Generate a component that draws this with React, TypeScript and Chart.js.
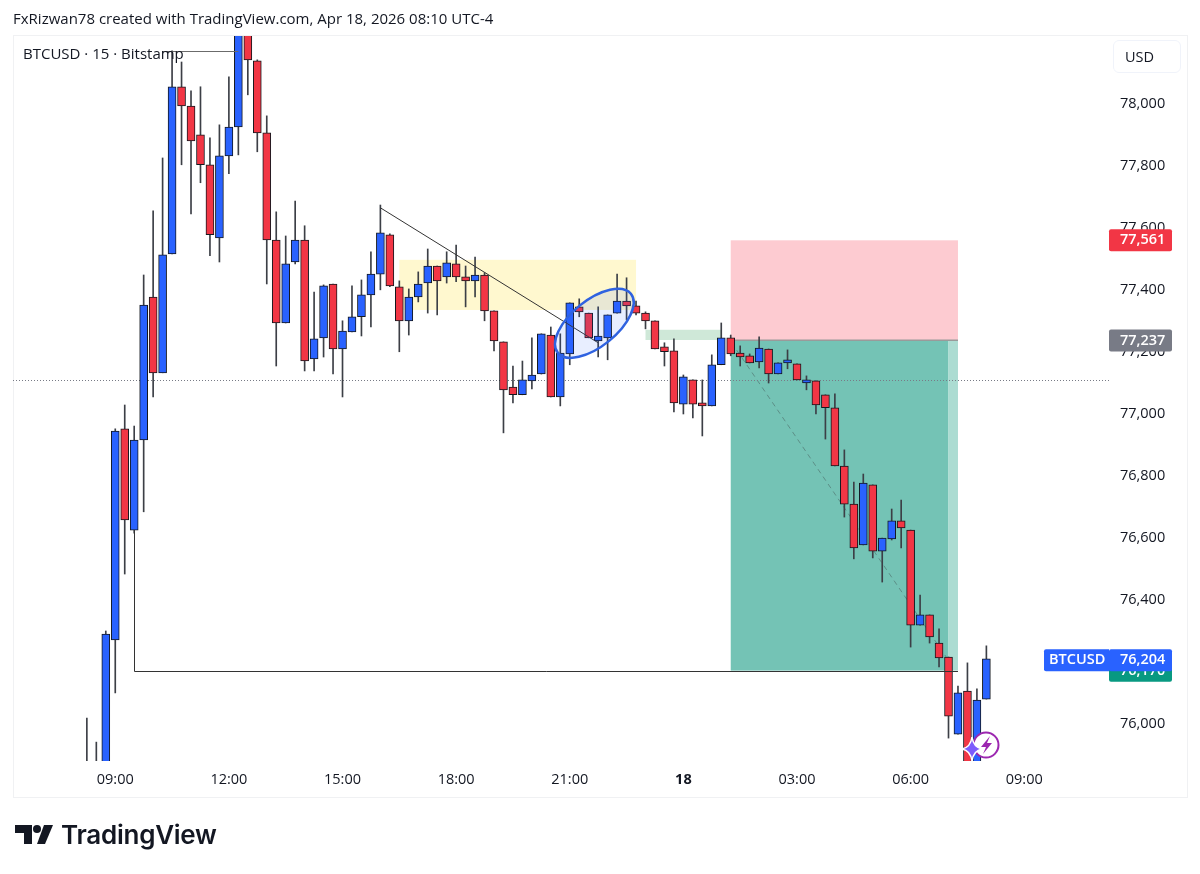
import { useEffect, useRef } from "react";
import { Chart, registerables } from "chart.js";

Chart.register(...registerables);

const FONT = '"Open Sans", sans-serif';

// 15 minute BTCUSD bars, bar 0 is the 09:00 candle
const firstBar = -3;
const opens = [
  75790, 75810, 75840,
  76265, 76947, 76620, 76911, 77373, 77128, 77512, 78052, 77990, 77897, 77800, 77564,
  77829, 77922, 78252, 78136, 77903, 77557, 77289, 77486, 77557, 77173, 77241, 77415,
  77205, 77260, 77309, 77380, 77447, 77574, 77406, 77296, 77373, 77418, 77473, 77438,
  77480, 77438, 77425, 77444, 77328, 77228, 77082, 77057, 77102, 77124, 77250, 77050,
  77189, 77341, 77321, 77231, 77241, 77321, 77360, 77344, 77321, 77296, 77212, 77199,
  77027, 77105, 77031, 77021, 77154, 77241, 77192, 77183, 77163, 77205, 77124, 77160,
  77157, 77095, 77102, 77057, 77015, 76827, 76704, 76572, 76766, 76552, 76591, 76650,
  76620, 76313, 76346, 76255, 76210, 75961, 76100, 75845, 76074,
];
const highs = [
  76013, 75935, 76294,
  76947, 77024, 76956, 77444, 77651, 77822, 78168, 78132, 78039, 78052, 77887, 77929,
  78084, 78280, 78290, 78139, 77958, 77648, 77570, 77683, 77603, 77389, 77412, 77415,
  77296, 77409, 77428, 77519, 77670, 77577, 77425, 77399, 77454, 77528, 77473, 77519,
  77541, 77473, 77502, 77451, 77328, 77228, 77150, 77166, 77241, 77254, 77276, 77254,
  77354, 77367, 77321, 77341, 77315, 77447, 77435, 77360, 77325, 77296, 77225, 77238,
  77121, 77105, 77105, 77186, 77289, 77250, 77215, 77189, 77244, 77205, 77160, 77202,
  77157, 77118, 77102, 77057, 77060, 76879, 76775, 76801, 76766, 76594, 76688, 76717,
  76620, 76410, 76346, 76301, 76210, 76116, 76191, 76107, 76246,
];
const lows = [
  75780, 75800, 75830,
  76094, 76478, 76610, 76679, 77050, 77128, 77512, 77800, 77641, 77742, 77506, 77486,
  77771, 77832, 78026, 77842, 77415, 77150, 77289, 77480, 77134, 77134, 77179, 77124,
  77050, 77260, 77247, 77276, 77396, 77406, 77196, 77250, 77357, 77321, 77315, 77418,
  77422, 77341, 77373, 77296, 77199, 76934, 77031, 77057, 77076, 77124, 77050, 77021,
  77154, 77309, 77241, 77179, 77170, 77321, 77299, 77315, 77270, 77205, 77150, 77002,
  76995, 76982, 76924, 77021, 77154, 77183, 77150, 77160, 77144, 77095, 77124, 77141,
  77105, 77073, 76995, 76914, 76827, 76662, 76527, 76572, 76530, 76452, 76588, 76562,
  76242, 76313, 76255, 76178, 75948, 75961, 75800, 75830, 76074,
];
const closes = [
  75810, 75840, 76284,
  76940, 76653, 76911, 77347, 77128, 77509, 78052, 77990, 77877, 77800, 77574, 77829,
  77922, 78252, 78139, 77903, 77557, 77289, 77480, 77557, 77166, 77238, 77409, 77205,
  77263, 77309, 77380, 77447, 77580, 77409, 77296, 77373, 77415, 77473, 77425, 77483,
  77438, 77425, 77444, 77328, 77231, 77073, 77057, 77105, 77121, 77254, 77050, 77192,
  77354, 77325, 77241, 77247, 77315, 77360, 77344, 77321, 77296, 77205, 77196, 77031,
  77115, 77027, 77021, 77154, 77241, 77189, 77179, 77160, 77208, 77124, 77160, 77170,
  77105, 77105, 77024, 77015, 76827, 76704, 76562, 76772, 76552, 76594, 76650, 76627,
  76313, 76346, 76275, 76207, 76019, 76094, 75829, 76071, 76204,
];

const priceTicks = [76000, 76200, 76400, 76600, 76800, 77000, 77200, 77400, 77600, 77800, 78000];
const timeTickBars = [0, 12, 24, 36, 48, 60, 72, 84, 96];
const timeTickLabels = ["09:00", "12:00", "15:00", "18:00", "21:00", "18", "03:00", "06:00", "09:00"];
const dayBar = 60;

// price tags on the axis, in draw order
const tagPrices = [77561, 76170, 77237, 76204];
const tagColors = ["#f23645", "#089981", "#787b86", "#2962ff"];

// user drawings, given in bars and prices
const yellowZone = { from: 30, to: 55, top: 77493, bottom: 77331 };
const greenZone = { from: 56, to: 64, top: 77267, bottom: 77234 };
const stopZone = { from: 65, to: 89, top: 77556, bottom: 77233 };
const targetZone = { from: 65, to: 88, top: 77233, bottom: 76166 };
const targetTail = { from: 88, to: 89, top: 77233, bottom: 76166 };
const downTrend = { from: 28, to: 51, start: 77661, end: 77225 };
const planPath = { from: 65.1, to: 88.2, start: 77225, end: 76190 };
const topLine = { from: 5, to: 13, price: 78168 };
const lowLine = { bar: 2, up: 76620, to: 89, price: 76166 };
const lastPrice = 77104;
const ellipse = { bar: 50.6, price: 77288 };

const candlePlugin = {
  id: "drawings",
  beforeDatasetsDraw(chart: any) {
    const { ctx, scales, chartArea } = chart;
    const x = scales.x;
    const y = scales.y;
    const box = (z: any, color: string) => {
      ctx.fillStyle = color;
      const l = x.getPixelForValue(z.from);
      const t = y.getPixelForValue(z.top);
      ctx.fillRect(l, t, x.getPixelForValue(z.to) - l, y.getPixelForValue(z.bottom) - t);
    };
    ctx.save();
    box(yellowZone, "#fff8cf");
    box(greenZone, "#cfe8d8");
    box(stopZone, "#fdcbd1");
    box(targetZone, "#74c3b5");
    box(targetTail, "#acdcd2");

    // entry line between the two zones
    ctx.strokeStyle = "#9a9a9a";
    ctx.lineWidth = 1.5;
    ctx.beginPath();
    ctx.moveTo(x.getPixelForValue(stopZone.from), y.getPixelForValue(stopZone.bottom));
    ctx.lineTo(x.getPixelForValue(stopZone.to), y.getPixelForValue(stopZone.bottom));
    ctx.stroke();

    // dashed plan line
    ctx.strokeStyle = "#5c8f87";
    ctx.lineWidth = 1;
    ctx.setLineDash([5, 4]);
    ctx.beginPath();
    ctx.moveTo(x.getPixelForValue(planPath.from), y.getPixelForValue(planPath.start));
    ctx.lineTo(x.getPixelForValue(planPath.to), y.getPixelForValue(planPath.end));
    ctx.stroke();

    // dotted last price line
    ctx.strokeStyle = "#787b86";
    ctx.setLineDash([1, 2]);
    ctx.beginPath();
    ctx.moveTo(chartArea.left, Math.round(y.getPixelForValue(lastPrice)) + 0.5);
    ctx.lineTo(chartArea.right, Math.round(y.getPixelForValue(lastPrice)) + 0.5);
    ctx.stroke();
    ctx.restore();
  },
  afterDatasetsDraw(chart: any) {
    const { ctx, scales, chartArea } = chart;
    const x = scales.x;
    const y = scales.y;
    ctx.save();
    ctx.beginPath();
    ctx.rect(chartArea.left, chartArea.top, chartArea.width, chartArea.height);
    ctx.clip();

    ctx.strokeStyle = "#333333";
    ctx.lineWidth = 1;
    ctx.beginPath();
    ctx.moveTo(x.getPixelForValue(downTrend.from), y.getPixelForValue(downTrend.start));
    ctx.lineTo(x.getPixelForValue(downTrend.to), y.getPixelForValue(downTrend.end));
    ctx.stroke();

    const lowY = Math.round(y.getPixelForValue(lowLine.price)) + 0.5;
    const lowX = Math.round(x.getPixelForValue(lowLine.bar)) + 0.5;
    ctx.beginPath();
    ctx.moveTo(lowX, y.getPixelForValue(lowLine.up));
    ctx.lineTo(lowX, lowY);
    ctx.lineTo(x.getPixelForValue(lowLine.to), lowY);
    ctx.stroke();

    const topY = Math.round(y.getPixelForValue(topLine.price)) + 0.5;
    ctx.strokeStyle = "#6b6b6b";
    ctx.beginPath();
    ctx.moveTo(x.getPixelForValue(topLine.from), topY);
    ctx.lineTo(x.getPixelForValue(topLine.to), topY);
    ctx.stroke();

    ctx.beginPath();
    ctx.ellipse(x.getPixelForValue(ellipse.bar), y.getPixelForValue(ellipse.price), 47, 23, (-39 * Math.PI) / 180, 0, Math.PI * 2);
    ctx.fillStyle = "rgba(41, 98, 255, 0.11)";
    ctx.fill();
    ctx.strokeStyle = "#2f62e0";
    ctx.lineWidth = 2.5;
    ctx.stroke();
    ctx.restore();

    // price tags sit on top of the axis labels
    ctx.save();
    ctx.font = `600 14.5px ${FONT}`;
    ctx.textBaseline = "middle";
    ctx.textAlign = "left";
    tagPrices.forEach((p, i) => {
      const mid = y.getPixelForValue(p) + 1.5;
      ctx.fillStyle = tagColors[i];
      ctx.beginPath();
      ctx.roundRect(chartArea.right, mid - 11, 63, 22, 2);
      ctx.fill();
      ctx.fillStyle = "#ffffff";
      ctx.fillText(p.toLocaleString("en-US"), chartArea.right + 11, mid);
    });
    const mid = y.getPixelForValue(76204) + 1.5;
    ctx.fillStyle = "#2962ff";
    ctx.beginPath();
    ctx.roundRect(chartArea.right - 65, mid - 11, 65, 22, [2, 0, 0, 2]);
    ctx.fill();
    ctx.fillStyle = "#ffffff";
    ctx.fillText("BTCUSD", chartArea.right - 60, mid);
    ctx.restore();
  },
};

export default function App() {
  const canvasRef = useRef<HTMLCanvasElement | null>(null);

  useEffect(() => {
    if (!canvasRef.current) return;

    const bars = opens.map((_, i) => firstBar + i);
    const colors = opens.map((o, i) => (closes[i] >= o ? "#2962ff" : "#f23645"));

    const chartInstance = new Chart(canvasRef.current, {
      type: "bar",
      data: {
        datasets: [
          {
            label: "body",
            data: bars.map((b, i) => ({ x: b, y: [opens[i], closes[i]] })) as any,
            backgroundColor: colors,
            borderColor: "#14181f",
            borderWidth: 1,
            borderSkipped: false,
            barThickness: 8,
            grouped: false,
            clip: 0,
            order: 1,
          },
          {
            label: "wick",
            data: bars.map((b, i) => ({ x: b, y: [lows[i], highs[i]] })) as any,
            backgroundColor: "#3c3f46",
            barThickness: 1,
            grouped: false,
            clip: 0,
            order: 2,
          },
        ],
      },
      options: {
        responsive: false,
        animation: false,
        devicePixelRatio: 1,
        layout: { padding: { left: 13, top: 36, right: 0, bottom: 77 } },
        plugins: { legend: { display: false }, tooltip: { enabled: false }, title: { display: false } },
        scales: {
          x: {
            type: "linear",
            offset: false,
            min: -10.8,
            max: 104.95,
            grid: { display: false, drawTicks: false },
            border: { display: false },
            afterBuildTicks: (scale: any) => {
              scale.ticks = timeTickBars.map((value) => ({ value }));
            },
            afterFit: (scale: any) => {
              scale.height = 36;
            },
            ticks: {
              autoSkip: false,
              maxRotation: 0,
              padding: 10,
              color: "#131722",
              font: (c: any) => ({ family: FONT, size: 14.5, weight: c.tick && c.tick.value === dayBar ? "bold" : "normal" }),
              callback: (v: any) => timeTickLabels[timeTickBars.indexOf(v)],
            },
          },
          y: {
            position: "right",
            min: 75874,
            max: 78216,
            grid: { display: false, drawTicks: false },
            border: { display: false },
            afterBuildTicks: (scale: any) => {
              scale.ticks = priceTicks.map((value) => ({ value }));
            },
            afterFit: (scale: any) => {
              scale.width = 91;
            },
            ticks: {
              padding: 11,
              labelOffset: 1.5,
              color: "#131722",
              font: { family: FONT, size: 14.5 },
              callback: (v: any) => Number(v).toLocaleString("en-US"),
            },
          },
        },
      },
      plugins: [candlePlugin],
    });

    // Cleanup chart instance on component unmount
    return () => {
      chartInstance.destroy();
    };
  }, []);

  return (
    <div style={{ position: "absolute", left: 0, top: 0, width: 1200, height: 874, background: "#fff", fontFamily: FONT, color: "#131722", overflow: "hidden" }}>
      <div style={{ position: "absolute", left: 13, top: 35, width: 1173, height: 761, border: "1px solid #f0f1f3" }} />
      <canvas ref={canvasRef} width={1200} height={874} style={{ position: "absolute", left: 0, top: 0, display: "block" }} />
      <div style={{ position: "absolute", left: 13, top: 8, fontSize: 15, whiteSpace: "nowrap" }}>
        FxRizwan78 created with TradingView.com, Apr 18, 2026 08:10 UTC-4
      </div>
      <div style={{ position: "absolute", left: 23, top: 43, fontSize: 15, whiteSpace: "nowrap" }}>BTCUSD · 15 · Bitstamp</div>
      <div style={{ position: "absolute", left: 1113, top: 40, width: 68, height: 33, boxSizing: "border-box", border: "1px solid #f0f3fa", borderRadius: 6, fontSize: 14.5, lineHeight: "31px", paddingLeft: 11 }}>
        USD
      </div>
      <svg style={{ position: "absolute", left: 960, top: 728 }} width={42} height={36} viewBox="0 0 42 36">
        <circle cx={26} cy={17} r={12.5} fill="#fff" stroke="#9c27b0" strokeWidth={2} />
        <path d="M30 8 L21 19 L26 19 L23 26 L32 15 L27 15 Z" fill="#9c27b0" />
        <path d="M12 9 Q13.5 19.5 22 21 Q13.5 22.5 12 33 Q10.5 22.5 2 21 Q10.5 19.5 12 9 Z" fill="#7c5cfc" stroke="#fff" strokeWidth={1.5} />
      </svg>
      <svg style={{ position: "absolute", left: 15, top: 825 }} width={40} height={20} viewBox="0 0 40 20">
        <path d="M0 0 H17 V19 H9 V8 H0 Z" fill="#131722" />
        <circle cx={22} cy={4} r={4} fill="#131722" />
        <path d="M29 0 H38 L30 19 H22 Z" fill="#131722" />
      </svg>
      <div style={{ position: "absolute", left: 61, top: 819, fontFamily: "Inter, sans-serif", fontSize: 26, fontWeight: 600, letterSpacing: -0.25, whiteSpace: "nowrap" }}>
        TradingView
      </div>
    </div>
  );
}
